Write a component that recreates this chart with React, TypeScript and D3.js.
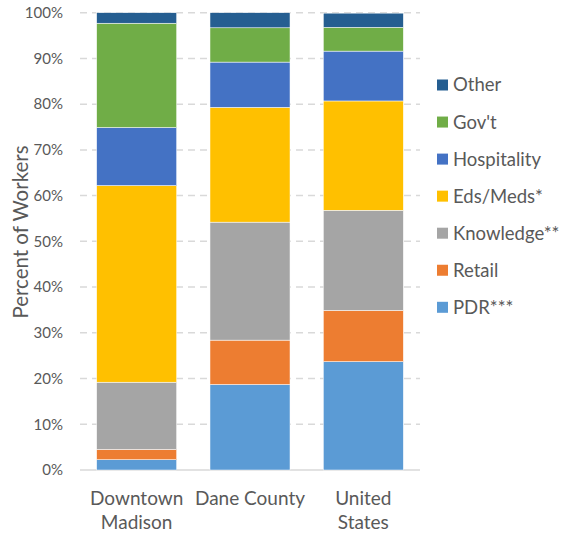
import React from "react";
import * as d3 from "d3";

const categories = ["Downtown Madison", "Dane County", "United States"];
const categoryLines = [["Downtown", "Madison"], ["Dane County"], ["United", "States"]];
const seriesNames = ["PDR***", "Retail", "Knowledge**", "Eds/Meds*", "Hospitality", "Gov't", "Other"];
const seriesColors = ["#5B9BD5", "#ED7D31", "#A5A5A5", "#FFC000", "#4472C4", "#70AD47", "#255E91"];
const pdr = [2.25, 18.7, 23.7];
const retail = [2.25, 9.7, 11.2];
const knowledge = [14.7, 25.8, 21.9];
const edsMeds = [43.0, 25.1, 23.9];
const hospitality = [12.7, 9.9, 10.9];
const govt = [22.8, 7.5, 5.2];
const other = [2.3, 3.3, 3.1];
const yTicks = [0, 10, 20, 30, 40, 50, 60, 70, 80, 90, 100];

const FONT = "Lato, 'Open Sans', sans-serif";
const TXT = "#595959";

export default function App() {
  const W = 565, H = 533;
  const left = 80, right = 420, top = 12.7, bottom = 470;
  const series = [pdr, retail, knowledge, edsMeds, hospitality, govt, other];
  const rows = categories.map((c, i) => {
    const r: any = { cat: c };
    seriesNames.forEach((s, j) => (r[s] = series[j][i]));
    return r;
  });
  const stacked = d3.stack().keys(seriesNames)(rows);
  const x = d3.scaleBand<string>().domain(categories).range([left, right]).paddingInner(0.294).paddingOuter(0.147);
  const y = d3.scaleLinear().domain([0, 100]).range([bottom, top]);
  const legendOrder = [...seriesNames].reverse();

  return (
    <svg width={W} height={H} style={{ position: "absolute", left: 0, top: 0, background: "#fff" }} fontFamily={FONT}>
      {yTicks.filter((t) => t > 0).map((t) => (
        <line key={t} x1={left} x2={right} y1={y(t)} y2={y(t)} stroke="#d9d9d9" strokeWidth={1.5} strokeDasharray="7,5" />
      ))}
      <line x1={left} x2={right} y1={y(0)} y2={y(0)} stroke="#d9d9d9" strokeWidth={1.5} />
      {stacked.map((s, j) => (
        <g key={s.key} fill={seriesColors[j]}>
          {s.map((d: any, i: number) => (
            <rect key={i} x={x(categories[i])} width={x.bandwidth()} y={y(d[1])} height={y(d[0]) - y(d[1])} stroke="#fff" strokeWidth={0.5} />
          ))}
        </g>
      ))}
      {yTicks.map((t) => (
        <text key={t} x={63} y={y(t)} dy="0.35em" textAnchor="end" fontSize={15} fill={TXT}>{t}%</text>
      ))}
      <text transform={`translate(28,232) rotate(-90)`} textAnchor="middle" fontSize={20.5} fill={TXT}>Percent of Workers</text>
      {categories.map((c, i) => (
        <text key={c} x={x(c)! + x.bandwidth() / 2} y={505} textAnchor="middle" fontSize={19} fill={TXT}>
          {categoryLines[i].map((l, k) => (
            <tspan key={k} x={x(c)! + x.bandwidth() / 2} dy={k === 0 ? 0 : 24}>{l}</tspan>
          ))}
        </text>
      ))}
      {legendOrder.map((name, k) => {
        const cy = 85 + k * 37.05;
        const j = seriesNames.indexOf(name);
        return (
          <g key={name}>
            <rect x={437} y={cy - 5.5} width={11} height={11} fill={seriesColors[j]} />
            <text x={453} y={cy} dy="0.35em" fontSize={18.5} fill={TXT}>{name}</text>
          </g>
        );
      })}
    </svg>
  );
}
